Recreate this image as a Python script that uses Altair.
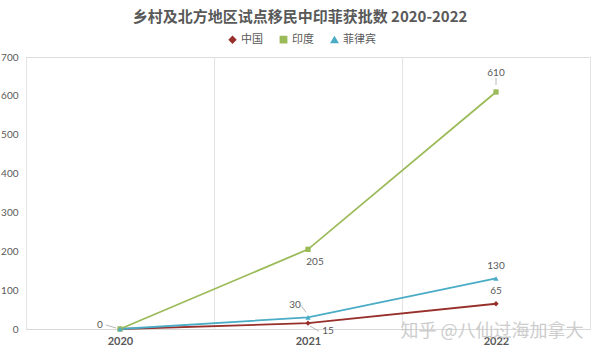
import altair as alt
import pandas as pd

years = ["2020", "2021", "2022"]
series_names = ["中国", "印度", "菲律宾"]
china = [0, 15, 65]
india = [0, 205, 610]
philippines = [0, 30, 130]
colors = ["#97302B", "#9BBB59", "#4BACC6"]
shapes = ["diamond", "square", "triangle-up"]
y_ticks = [0, 100, 200, 300, 400, 500, 600, 700]

rows = []
for name, vals in zip(series_names, [china, india, philippines]):
    for yr, v in zip(years, vals):
        rows.append({"series": name, "year": yr, "value": v})
df = pd.DataFrame(rows)

FONT = "Lato"
CJK = "Noto Sans CJK SC"

x_enc = alt.X(
    "year:O",
    bandPosition=0.5,
    scale=alt.Scale(type="band", paddingInner=0, paddingOuter=0, domain=years),
    axis=alt.Axis(
        title=None, labelAngle=0, tickBand="extent", grid=True, gridColor="#e3e3e3",
        domainColor="#d9d9d9", ticks=False, labelFont=FONT, labelFontSize=11,
        labelFontWeight="bold", labelColor="#595959", labelPadding=6,
    ),
)
y_enc = alt.Y(
    "value:Q",
    scale=alt.Scale(domain=[0, 700], nice=False),
    axis=alt.Axis(
        title=None, values=y_ticks, grid=False, domain=False, ticks=False,
        labelFont=FONT, labelFontSize=10, labelColor="#595959", labelPadding=8,
    ),
)
legend_cfg = alt.Legend(
    title=None, orient="none", legendX=201, legendY=-23, direction="horizontal",
    labelFont=CJK, labelFontSize=11, labelColor="#595959", symbolSize=40,
    columnPadding=14, symbolStrokeWidth=1.5, labelOffset=3,
)
color_enc = alt.Color("series:N", scale=alt.Scale(domain=series_names, range=colors), legend=legend_cfg)
shape_enc = alt.Shape("series:N", scale=alt.Scale(domain=series_names, range=shapes), legend=legend_cfg)

base = alt.Chart(df)
lines = base.mark_line(strokeWidth=1.8).encode(
    x=x_enc, y=y_enc, color=color_enc, detail="series:N",
)
points = base.mark_point(filled=True, size=28, opacity=1).encode(
    x=x_enc, y=y_enc, color=color_enc, shape=shape_enc
)

# label placements: (series, year, dx, dy)
label_specs = [
    ("菲律宾", "2020", -20, -4),
    ("印度", "2021", 7, 13),
    ("印度", "2022", 0, -19),
    ("菲律宾", "2021", -13, -12),
    ("菲律宾", "2022", 0, -12),
    ("中国", "2021", 20, 8),
    ("中国", "2022", 0, -13),
]
label_layers = []
for s, yr, dx, dy in label_specs:
    label_layers.append(
        base.transform_filter(
            (alt.datum.series == s) & (alt.datum.year == yr)
        ).mark_text(dx=dx, dy=dy, font=FONT, fontSize=10, color="#595959").encode(
            x=x_enc, y=y_enc, text="value:Q"
        )
    )

# leader lines: (series, year, xOffset, yOffset, x2Offset, y2Offset)
leader_specs = [
    ("印度", "2022", 0, -7, 0, -14),
    ("菲律宾", "2020", -14, -4, -4, -1),
    ("菲律宾", "2021", -7, -12, -2, -5),
    ("中国", "2021", 2, 3, 11, 8),
]
leader_layers = []
for s, yr, xo, yo, x2o, y2o in leader_specs:
    leader_layers.append(
        base.transform_filter(
            (alt.datum.series == s) & (alt.datum.year == yr)
        ).mark_rule(color="#a6a6a6", strokeWidth=0.8, xOffset=xo, yOffset=yo,
                    x2Offset=x2o, y2Offset=y2o).encode(
            x=x_enc, x2="year:O", y=y_enc, y2="value:Q"
        )
    )

watermark = alt.Chart(pd.DataFrame({"t": ["知乎 @八仙过海加拿大"]})).mark_text(
    font=CJK, fontSize=18, color="#c8c8c8", opacity=0.9, align="center", baseline="middle"
).encode(x=alt.value(466), y=alt.value(275), text="t:N")

chart = alt.layer(lines, *leader_layers, points, *label_layers, watermark).properties(
    width=564,
    height=272,
    title=alt.TitleParams(
        "乡村及北方地区试点移民中印菲获批数 2020-2022",
        font=CJK, fontSize=15, fontWeight="bold", color="#595959",
        anchor="middle", frame="group", dx=-8, offset=9,
    ),
    autosize=alt.AutoSizeParams(type="none"),
    padding={"left": 26, "top": 57, "right": 10, "bottom": 22},
).configure_view(stroke=None).configure(background="white")

chart.save("out.html", embed_options={"renderer": "svg", "actions": False})
